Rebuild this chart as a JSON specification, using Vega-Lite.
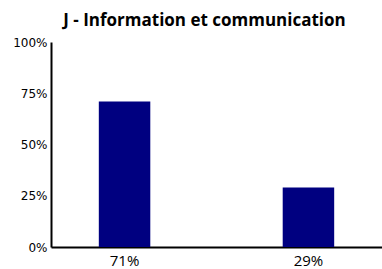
{
  "$schema": "https://vega.github.io/schema/vega-lite/v6.json",
  "width": 331,
  "height": 205,
  "autosize": {"type": "none"},
  "padding": {"left": 51, "top": 42, "right": 0, "bottom": 22},
  "title": {"text": "J - Information et communication", "font": "Open Sans", "fontSize": 17, "fontWeight": "bold", "color": "#000000", "anchor": "middle", "dx": -12, "offset": 6},
  "data": {"values": [
    {"label": "71%", "value": 0.71},
    {"label": "29%", "value": 0.29}
  ]},
  "mark": {"type": "bar", "color": "#000080"},
  "encoding": {
    "x": {"field": "label", "type": "nominal", "sort": null,
      "scale": {"paddingInner": 0.72, "paddingOuter": 0.26},
      "axis": {"title": null, "labelAngle": 0, "ticks": false, "domainColor": "#000000", "domainWidth": 2, "labelFont": "Open Sans", "labelFontSize": 15, "labelColor": "#000000", "labelPadding": 6}},
    "y": {"field": "value", "type": "quantitative",
      "scale": {"domain": [0, 1]},
      "axis": {"title": null, "format": ".0%", "values": [0, 0.25, 0.5, 0.75, 1], "ticks": false, "grid": false, "domainColor": "#000000", "domainWidth": 2, "labelFont": "DejaVu Sans", "labelFontSize": 12, "labelColor": "#000000", "labelPadding": 4}}
  },
  "config": {"view": {"stroke": null}}
}
